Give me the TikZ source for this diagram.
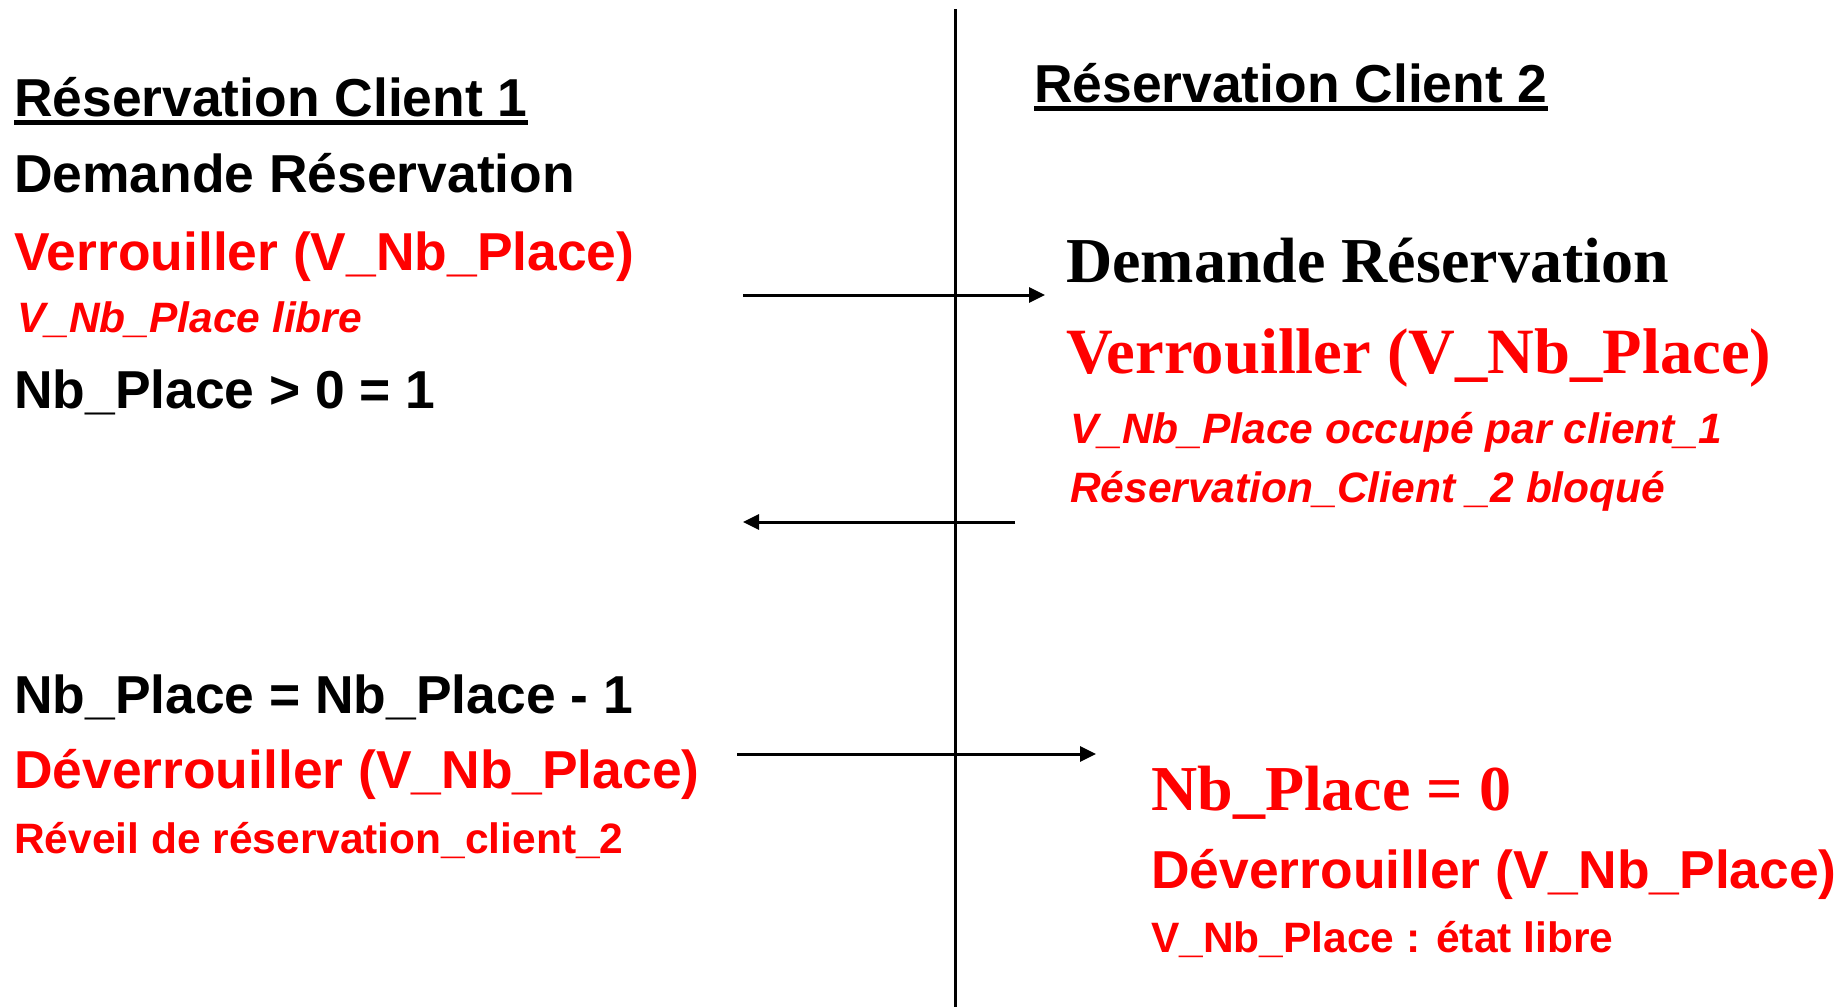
\documentclass[tikz,border=0pt]{standalone}
\usepackage{fontspec}
\setmainfont{Liberation Sans}
\newfontfamily\timesfont{Liberation Serif}
\usetikzlibrary{arrows.meta}
\definecolor{lockred}{RGB}{255,0,0}
\begin{document}
\begin{tikzpicture}[x=1pt,y=-1pt,
  txt/.style={anchor=base west, inner sep=0pt},
  big/.style={txt, font=\fontsize{53.4}{60}\selectfont\bfseries},
  small/.style={txt, font=\fontsize{42.5}{48}\selectfont\bfseries},
  smallit/.style={txt, font=\fontsize{42.5}{48}\selectfont\bfseries\itshape},
  serifbig/.style={txt, font=\fontsize{64}{72}\selectfont\timesfont\bfseries},
  alert/.style={text=lockred},
  msg/.style={line width=3pt, -{Triangle[length=16pt,width=15pt]}},
  divider/.style={line width=3pt},
  uline/.style={line width=5pt}]
\useasboundingbox (0,0) rectangle (1847,1007);

% separation between the two clients
\coordinate (divtop) at (955,9);
\coordinate (divbot) at (955,1007);
\draw[divider] (divtop) -- (divbot);

% client 1
\node[big] (h1) at (14,116) {Réservation Client 1};
\draw[uline] ([yshift=-6.5pt]h1.base west) -- ([yshift=-6.5pt]h1.base east);
\node[big] (d1) at (14,192) {Demande Réservation};
\node[big,alert] (v1) at (14,270) {Verrouiller (V\_Nb\_Place)};
\node[smallit,alert] (l1) at (17,332) {V\_Nb\_Place libre};
\node[big] (p1) at (14,408) {Nb\_Place > 0 = 1};
\node[big] (m1) at (14,713) {Nb\_Place = Nb\_Place - 1};
\node[big,alert] (u1) at (14,788) {Déverrouiller (V\_Nb\_Place)};
\node[small,alert] (r1) at (14,853) {Réveil de réservation\_client\_2};

% client 2
\node[big] (h2) at (1034,102) {Réservation Client 2};
\draw[uline] ([yshift=-6.5pt]h2.base west) -- ([yshift=-6.5pt]h2.base east);
\node[serifbig] (d2) at (1066,282) {Demande Réservation};
\node[serifbig,alert,font=\fontsize{64.6}{72}\selectfont\timesfont\bfseries] (v2) at (1066,373) {Verrouiller (V\_Nb\_Place)};
\node[smallit,alert] (o2) at (1070,443) {V\_Nb\_Place occupé par client\_1};
\node[smallit,alert] (b2) at (1070,502) {Réservation\_Client \_2 bloqué};
\node[serifbig,alert] (z2) at (1151,810) {Nb\_Place = 0};
\node[big,alert] (u2) at (1151,888) {Déverrouiller (V\_Nb\_Place)};
\node[small,alert] (e2) at (1151,952) {V\_Nb\_Place : état libre};

% messages exchanged between the clients
\coordinate (a1s) at (743,295);
\coordinate (a1e) at (1045,295);
\coordinate (a2s) at (1015,522);
\coordinate (a2e) at (743,522);
\coordinate (a3s) at (737,754);
\coordinate (a3e) at (1096,754);
\draw[msg] (a1s) -- (a1e);
\draw[msg] (a2s) -- (a2e);
\draw[msg] (a3s) -- (a3e);
\end{tikzpicture}
\end{document}
